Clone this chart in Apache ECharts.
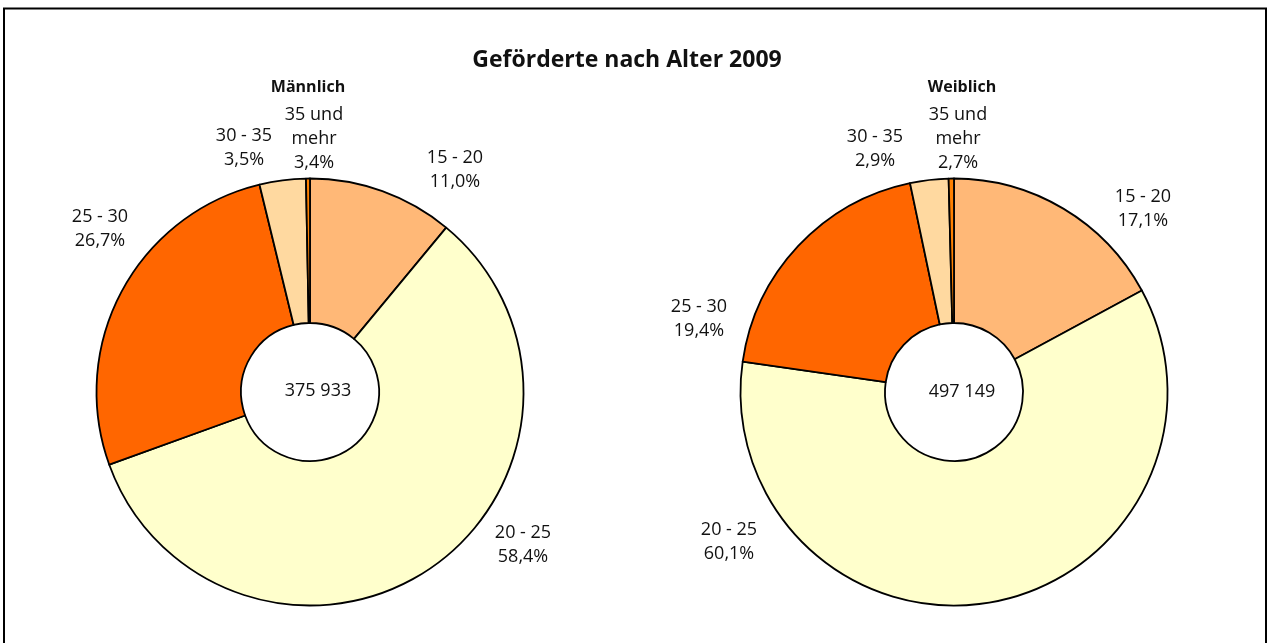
<!DOCTYPE html>
<html>
<head>
<meta charset="utf-8">
<script src="https://cdn.jsdelivr.net/npm/echarts@6/dist/echarts.min.js"></script>
<style>
html,body{margin:0;padding:0;background:#fff;}
#chart{width:1267px;height:643px;}
</style>
</head>
<body>
<div id="chart"></div>
<script>
// ---- data ----
const categories = ['15 - 20', '20 - 25', '25 - 30', '30 - 35', '35 und\nmehr'];
const maleValues = [11.0, 58.4, 26.7, 3.5, 0.3];
const femaleValues = [17.1, 60.1, 19.4, 2.9, 0.4];
const malePctLabels = ['11,0%', '58,4%', '26,7%', '3,5%', '3,4%'];
const femalePctLabels = ['17,1%', '60,1%', '19,4%', '2,9%', '2,7%'];
const totals = ['375 933', '497 149'];
const panelTitles = ['Männlich', 'Weiblich'];
const mainTitle = 'Geförderte nach Alter 2009';

// ---- layout / style ----
const colors = ['#FFB877', '#FFFFCC', '#FF6600', '#FFD9A0', '#FF8000'];
const centers = [[310, 392], [954, 392]];
const labelOffsets = [
  [[145, -222], [213, 153], [-210, -163], [-66, -244], [4, -253]],
  [[189, -183], [-225, 150], [-255, -73], [-79, -243], [4, -253]]
];
const FONT = 'Open Sans';

const pctLabels = [malePctLabels, femalePctLabels];
const seriesValues = [maleValues, femaleValues];

const chart = echarts.init(document.getElementById('chart'), null, {renderer: 'canvas'});

const series = seriesValues.map((vals, s) => ({
  type: 'pie',
  center: centers[s],
  radius: [69, 213.5],
  startAngle: 90,
  clockwise: true,
  avoidLabelOverlap: false,
  animation: false,
  emphasis: {disabled: true},
  itemStyle: {borderColor: '#000', borderWidth: 1.8},
  label: {
    show: true,
    position: 'outside',
    fontFamily: FONT,
    fontSize: 18,
    lineHeight: 24,
    color: '#111',
    formatter: p => p.name + '\n' + pctLabels[s][p.dataIndex]
  },
  labelLine: {show: false},
  labelLayout: p => ({
    x: centers[s][0] + labelOffsets[s][p.dataIndex][0],
    y: centers[s][1] + labelOffsets[s][p.dataIndex][1],
    align: 'center',
    verticalAlign: 'middle'
  }),
  data: vals.map((v, i) => ({value: v, name: categories[i], itemStyle: {color: colors[i]}}))
}));

const titles = [
  {text: mainTitle, left: 622, top: 44, textAlign: 'center',
   textStyle: {fontFamily: FONT, fontSize: 23, fontWeight: 'bold', color: '#111'}},
  {text: panelTitles[0], left: 303, top: 74, textAlign: 'center',
   textStyle: {fontFamily: FONT, fontSize: 16, fontWeight: 'bold', color: '#111'}},
  {text: panelTitles[1], left: 957, top: 74, textAlign: 'center',
   textStyle: {fontFamily: FONT, fontSize: 16, fontWeight: 'bold', color: '#111'}},
  {text: totals[0], left: centers[0][0] + 3, top: centers[0][1] - 15, textAlign: 'center',
   textStyle: {fontFamily: FONT, fontSize: 18, fontWeight: 'normal', color: '#111'}},
  {text: totals[1], left: centers[1][0] + 3, top: centers[1][1] - 14, textAlign: 'center',
   textStyle: {fontFamily: FONT, fontSize: 18, fontWeight: 'normal', color: '#111'}}
];

chart.setOption({
  backgroundColor: '#fff',
  animation: false,
  title: titles,
  graphic: [{
    type: 'rect',
    shape: {x: 4, y: 8.5, width: 1262, height: 700},
    style: {fill: 'none', stroke: '#000', lineWidth: 2},
    silent: true
  }],
  series: series
});
</script>
</body>
</html>
